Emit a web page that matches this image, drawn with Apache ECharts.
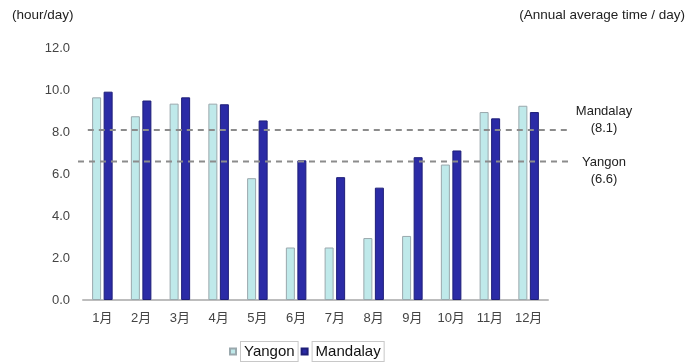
<!DOCTYPE html>
<html><head><meta charset="utf-8">
<script src="https://cdn.jsdelivr.net/npm/echarts@6/dist/echarts.min.js"></script>
<style>html,body{margin:0;padding:0;background:#fff}#c{width:693px;height:363px}</style>
</head><body><div id="c"></div>
<script>
const categories = ['1月','2月','3月','4月','5月','6月','7月','8月','9月','10月','11月','12月'];
const yangon   = [9.65, 8.75, 9.35, 9.35, 5.8, 2.5, 2.5, 2.95, 3.05, 6.45, 8.95, 9.25];
const mandalay = [9.92, 9.5, 9.65, 9.32, 8.55, 6.65, 5.85, 5.35, 6.8, 7.12, 8.65, 8.95];
const averageNames = ['Mandalay', 'Yangon'];
const averageValues = [8.1, 6.6];
const averageStarts = [0.02, 0];
const yTicks = [0, 2, 4, 6, 8, 10, 12];

const font = '"Liberation Sans", Arial, "Noto Sans CJK JP", sans-serif';
const chart = echarts.init(document.getElementById('c'));
chart.setOption({
  animation: false,
  textStyle: { fontFamily: font },
  grid: [
    { left: 83, right: 145, top: 48, bottom: 63 },
    { left: 78, right: 125, top: 48, bottom: 63 }
  ],
  xAxis: [
    { type: 'category', data: categories, gridIndex: 0,
      axisLine: { lineStyle: { color: '#bdbdbd', width: 2 } },
      axisTick: { show: false },
      axisLabel: { color: '#444', fontSize: 13, margin: 12, fontFamily: font } },
    { type: 'value', gridIndex: 1, min: 0, max: 1, show: false }
  ],
  yAxis: [
    { type: 'value', gridIndex: 0, min: yTicks[0], max: yTicks[yTicks.length-1], interval: 2,
      axisLine: { show: false }, axisTick: { show: false }, splitLine: { show: false },
      axisLabel: { color: '#444', fontSize: 13, margin: 13, formatter: v => v.toFixed(1), fontFamily: font } },
    { type: 'value', gridIndex: 1, min: yTicks[0], max: yTicks[yTicks.length-1], show: false }
  ],
  legend: {
    left: 224, top: 336, itemWidth: 6, itemHeight: 6, itemGap: 2,
    icon: 'rect',
    data: ['Yangon', 'Mandalay'],
    textStyle: { color: '#111', fontSize: 15, fontFamily: font,
      borderColor: '#c8c8c8', borderWidth: 1, padding: [2, 3, 2, 3], backgroundColor: '#fff' }
  },
  series: [
    { name: 'Yangon', type: 'bar', data: yangon, barWidth: 9, barGap: '28%',
      itemStyle: { color: '#bfe9ea', borderColor: '#9aa8ad', borderWidth: 1 } },
    { name: 'Mandalay', type: 'bar', data: mandalay, barWidth: 9,
      itemStyle: { color: '#2b2ba6', borderColor: '#1e1e78', borderWidth: 1 } },
    ...averageValues.map((v, i) => ({
      type: 'line', xAxisIndex: 1, yAxisIndex: 1, symbol: 'none', silent: true, z: 5,
      data: [[averageStarts[i], v], [1, v]],
      lineStyle: { color: '#8c8c8c', width: 2, type: [6, 5] }
    }))
  ],
  graphic: [
    { type: 'text', left: 12, top: 9, style: { text: '(hour/day)', font: '13.5px ' + font, fill: '#222' } },
    { type: 'text', right: 8, top: 9, style: { text: '(Annual average time / day)', font: '13.5px ' + font, fill: '#222' } },
    { type: 'text', x: 604, y: 103, style: { text: averageNames[0] + '\n(' + averageValues[0].toFixed(1) + ')', font: '13px ' + font, fill: '#222', align: 'center', lineHeight: 17 } },
    { type: 'text', x: 604, y: 154, style: { text: averageNames[1] + '\n(' + averageValues[1].toFixed(1) + ')', font: '13px ' + font, fill: '#222', align: 'center', lineHeight: 17 } }
  ]
});
</script></body></html>
